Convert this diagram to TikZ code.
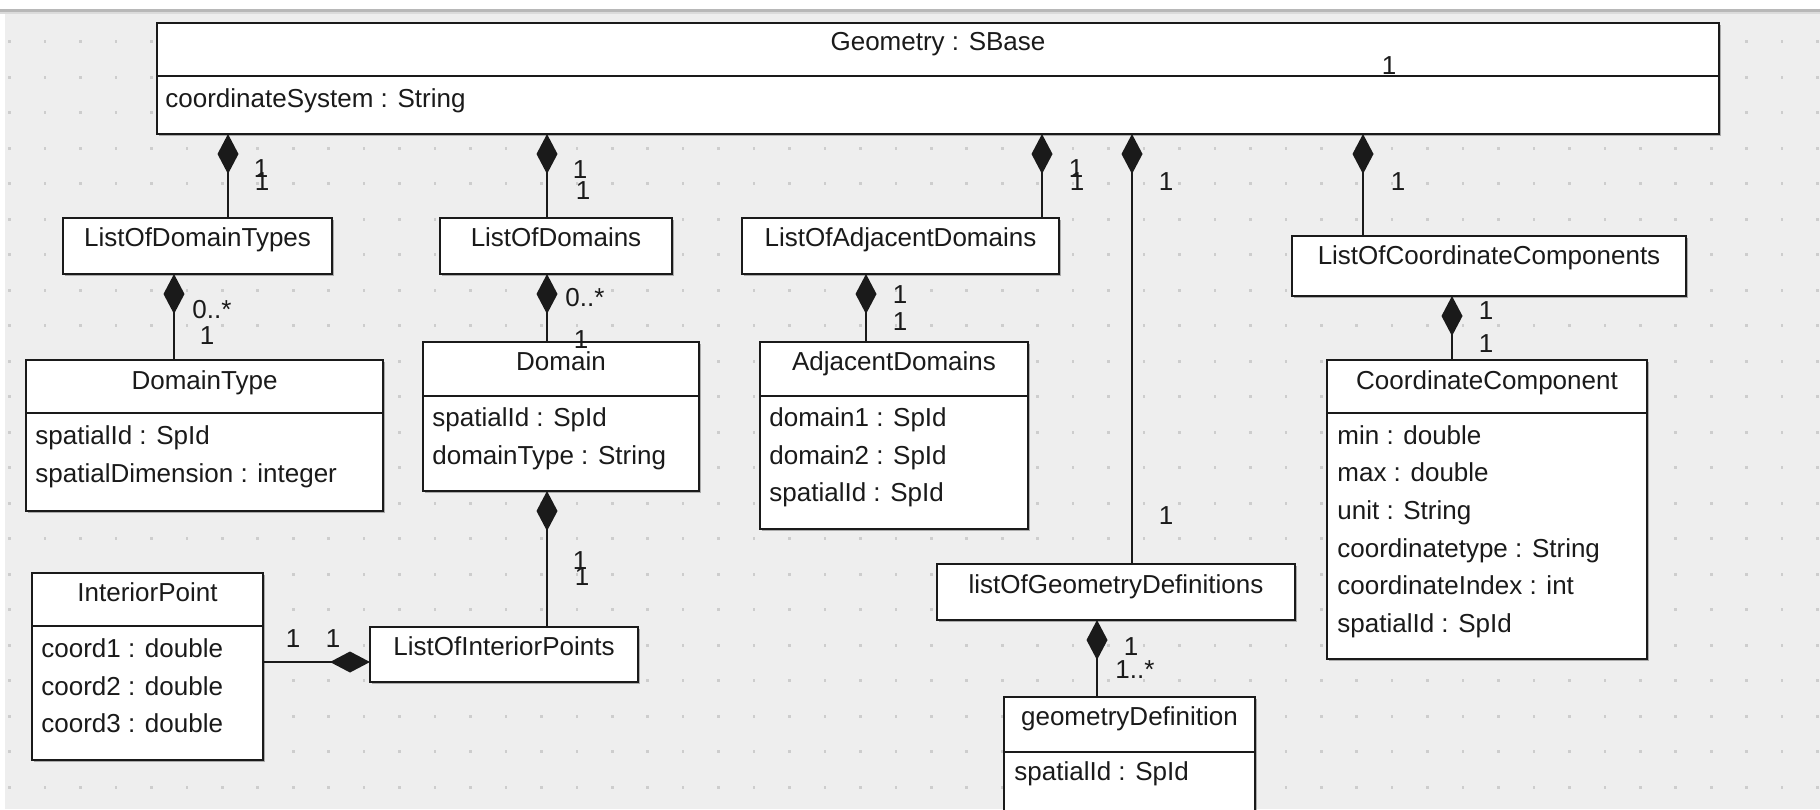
\documentclass[tikz,border=0pt]{standalone}
\usepackage{fontspec}
\setmainfont{Liberation Sans}
\usetikzlibrary{arrows.meta,fit,shadows}
\definecolor{canvas}{HTML}{EEEEEE}
\definecolor{griddot}{HTML}{CDCDCD}
\definecolor{ink}{HTML}{1A1A1A}
\begin{document}
\begin{tikzpicture}[x=0.5pt,y=-0.5pt,
  box/.style={draw=ink, line width=1.2pt, fill=white, inner sep=0pt, outer sep=0pt,
    drop shadow={shadow xshift=1.1pt, shadow yshift=-1.1pt, fill=black, opacity=0.28}},
  sep/.style={draw=ink, line width=1.2pt},
  lbl/.style={font=\fontsize{13}{15}\selectfont, text=ink, inner sep=0pt,
    text height=0.716em, text depth=0pt},
  ttl/.style={lbl, anchor=center},
  attr/.style={lbl, anchor=west},
  mult/.style={lbl, anchor=center},
  multw/.style={lbl, anchor=west},
  comp/.style={draw=ink, line width=1pt, -{Diamond[length=20pt,width=10.5pt]}},
]
% page, editor canvas and top bar
\useasboundingbox (0,0) rectangle (1820,809);
\clip (0,0) rectangle (1820,809);
\fill[white] (0,0) rectangle (1820,809);
\fill[canvas] (5,14) rectangle (1820,809);
\fill[black!28] (0,9) rectangle (1820,12);
\fill[black!14] (0,12) rectangle (1820,14);
% dotted grid
\foreach \i in {0,...,51}
  \foreach \j in {0,...,21}
    \fill[griddot] ({9.6+35.45*\i-1.3},{41.7+35.5*\j-1.3}) rectangle ++(2.6,2.6);

% ---------- classes ----------
\node[box, fit={(157,23) (1719,134)}] (geom) {};
\draw[sep] (157,76) -- (1719,76);
\node[ttl] (geomT) at (938,43) {Geometry : SBase};
\node[attr] (geomA1) at (165,100) {coordinateSystem : String};

\node[box, fit={(63,218) (332,274)}] (ldt) {};
\node[ttl] (ldtT) at (197.5,239) {ListOfDomainTypes};

\node[box, fit={(440,218) (672,274)}] (lod) {};
\node[ttl] (lodT) at (556,239) {ListOfDomains};

\node[box, fit={(742,218) (1059,274)}] (lad) {};
\node[ttl] (ladT) at (900.5,239) {ListOfAdjacentDomains};

\node[box, fit={(1292,236) (1686,296)}] (lcc) {};
\node[ttl] (lccT) at (1489,257) {ListOfCoordinateComponents};

\node[box, fit={(26,360) (383,511)}] (dt) {};
\draw[sep] (26,413) -- (383,413);
\node[ttl] (dtT) at (204.5,382) {DomainType};
\node[attr] (dtA1) at (35,437) {spatialId : SpId};
\node[attr] (dtA2) at (35,475) {spatialDimension : integer};

\node[box, fit={(423,342) (699,491)}] (dom) {};
\draw[sep] (423,396) -- (699,396);
\node[ttl] (domT) at (561,363) {Domain};
\node[attr] (domA1) at (432,419) {spatialId : SpId};
\node[attr] (domA2) at (432,457) {domainType : String};

\node[box, fit={(760,342) (1028,529)}] (adj) {};
\draw[sep] (760,396) -- (1028,396);
\node[ttl] (adjT) at (894,363) {AdjacentDomains};
\node[attr] (adjA1) at (769,419) {domain1 : SpId};
\node[attr] (adjA2) at (769,457) {domain2 : SpId};
\node[attr] (adjA3) at (769,494) {spatialId : SpId};

\node[box, fit={(1327,360) (1647,659)}] (cc) {};
\draw[sep] (1327,413) -- (1647,413);
\node[ttl] (ccT) at (1487,382) {CoordinateComponent};
\node[attr] (ccA1) at (1337,437) {min : double};
\node[attr] (ccA2) at (1337,474) {max : double};
\node[attr] (ccA3) at (1337,512) {unit : String};
\node[attr] (ccA4) at (1337,550) {coordinatetype : String};
\node[attr] (ccA5) at (1337,587) {coordinateIndex : int};
\node[attr] (ccA6) at (1337,625) {spatialId : SpId};

\node[box, fit={(32,573) (263,760)}] (ip) {};
\draw[sep] (32,626) -- (263,626);
\node[ttl] (ipT) at (147.5,594) {InteriorPoint};
\node[attr] (ipA1) at (41,650) {coord1 : double};
\node[attr] (ipA2) at (41,688) {coord2 : double};
\node[attr] (ipA3) at (41,725) {coord3 : double};

\node[box, fit={(370,627) (638,682)}] (lip) {};
\node[ttl] (lipT) at (504,648) {ListOfInteriorPoints};

\node[box, fit={(937,564) (1295,620)}] (lgd) {};
\node[ttl] (lgdT) at (1116,586) {listOfGeometryDefinitions};

\node[box, fit={(1004,697) (1255,840)}] (gd) {};
\draw[sep] (1004,752) -- (1255,752);
\node[ttl] (gdT) at (1129.5,718) {geometryDefinition};
\node[attr] (gdA1) at (1014,773) {spatialId : SpId};

% ---------- compositions ----------
\coordinate (k1) at (228,0);
\coordinate (k2) at (547,0);
\coordinate (k3) at (1042,0);
\coordinate (k4) at (1132,0);
\coordinate (k5) at (1363,0);
\coordinate (k6) at (174,0);
\coordinate (k7) at (866,0);
\coordinate (k8) at (1452,0);
\coordinate (k9) at (1097,0);
\coordinate (k10) at (0,662);

\draw[comp] (ldt.north -| k1) -- (geom.south -| k1);
\draw[comp] (lod.north -| k2) -- (geom.south -| k2);
\draw[comp] (lad.north -| k3) -- (geom.south -| k3);
\draw[comp] (lgd.north -| k4) -- (geom.south -| k4);
\draw[comp] (lcc.north -| k5) -- (geom.south -| k5);
\draw[comp] (dt.north -| k6) -- (ldt.south -| k6);
\draw[comp] (dom.north -| k2) -- (lod.south -| k2);
\draw[comp] (adj.north -| k7) -- (lad.south -| k7);
\draw[comp] (cc.north -| k8) -- (lcc.south -| k8);
\draw[comp] (lip.north -| k2) -- (dom.south -| k2);
\draw[comp] (gd.north -| k9) -- (lgd.south -| k9);
\draw[comp] (ip.east |- k10) -- (lip.west |- k10);

% ---------- multiplicities ----------
\node[mult] (m1a) at (261,170) {1};
\node[mult] (m1b) at (262,183) {1};
\node[mult] (m2a) at (580,171) {1};
\node[mult] (m2b) at (583,192) {1};
\node[mult] (m3a) at (1076,170) {1};
\node[mult] (m3b) at (1077,183) {1};
\node[mult] (m4a) at (1166,183) {1};
\node[mult] (m4b) at (1166,517) {1};
\node[mult] (m5a) at (1398,183) {1};
\node[mult] (m5b) at (1389,67) {1};
\node[multw] (m6a) at (192,311) {0..*};
\node[mult] (m6b) at (207,337) {1};
\node[multw] (m7a) at (565,299) {0..*};
\node[mult] (m7b) at (581,341) {1};
\node[mult] (m8a) at (900,296) {1};
\node[mult] (m8b) at (900,323) {1};
\node[mult] (m9a) at (1486,312) {1};
\node[mult] (m9b) at (1486,345) {1};
\node[mult] (m10a) at (580,562) {1};
\node[mult] (m10b) at (582,578) {1};
\node[mult] (m11a) at (293,640) {1};
\node[mult] (m11b) at (333,640) {1};
\node[mult] (m12a) at (1131,648) {1};
\node[multw] (m12b) at (1115,671) {1..*};
\end{tikzpicture}
\end{document}
